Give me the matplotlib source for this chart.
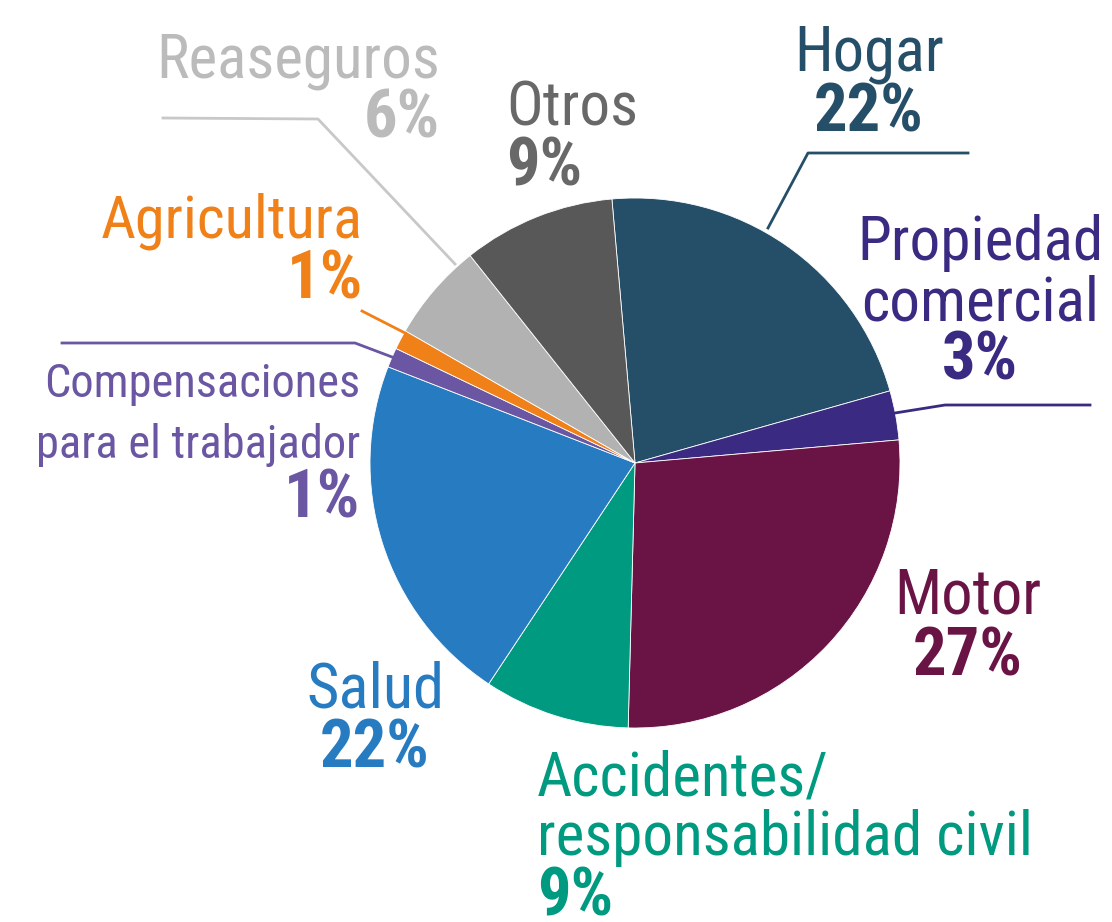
import matplotlib
matplotlib.use("Agg")
import matplotlib.pyplot as plt
import matplotlib.font_manager as fm
from matplotlib.lines import Line2D

# ---------------- data ----------------
categories = ["Hogar", "Propiedad comercial", "Motor", "Accidentes/responsabilidad civil",
              "Salud", "Compensaciones para el trabajador", "Agricultura", "Reaseguros", "Otros"]
shares = [22.0, 3.0, 26.8, 8.9, 21.6, 1.2, 1.2, 6.0, 9.3]
pct_labels = ["22%", "3%", "27%", "9%", "22%", "1%", "1%", "6%", "9%"]
name_lines = [["Hogar"], ["Propiedad", "comercial"], ["Motor"],
              ["Accidentes/", "responsabilidad civil"], ["Salud"],
              ["Compensaciones", "para el trabajador"], ["Agricultura"],
              ["Reaseguros"], ["Otros"]]
slice_colors = ["#254E68", "#3B2A82", "#6A1446", "#009A80", "#277BC0",
                "#6A56A2", "#F08119", "#B2B2B2", "#585858"]
text_colors = ["#254E68", "#3B2A82", "#6A1446", "#009A80", "#277BC0",
               "#6A56A2", "#F08119", "#BBBBBB", "#686868"]
line_colors = ["#254E68", "#3B2A82", None, None, None,
               "#6A56A2", "#F08119", "#C8C8C8", None]

# ---------------- font ----------------
names = {f.name for f in fm.fontManager.ttflist}
STRETCH = "normal"
if "Roboto Condensed" in names:
    FAMILY = "Roboto Condensed"
elif "Liberation Sans Narrow" in names:
    FAMILY = "Liberation Sans Narrow"
elif any(f.name == "DejaVu Sans" and str(f.stretch) in ("condensed", "semi-condensed")
         for f in fm.fontManager.ttflist):
    FAMILY = "DejaVu Sans"
    STRETCH = "condensed"
else:
    FAMILY = "Roboto"

W, H = 1112, 922
fig = plt.figure(figsize=(W / 100, H / 100), dpi=100)
fig.patch.set_facecolor("white")

cx, cy, R = 635, 463, 265
ax = fig.add_axes([(cx - R) / W, (H - cy - R) / H, 2 * R / W, 2 * R / H])
ax.pie(shares, colors=slice_colors, startangle=95, counterclock=False,
       wedgeprops=dict(edgecolor="white", linewidth=0.6))
ax.set_xlim(-1, 1)
ax.set_ylim(-1, 1)
ax.set_aspect("auto")
ax.axis("off")

# ---------------- layout (pixel coordinates) ----------------
# (ha, x, [baselines of name lines..., pct baseline], name fontsize, pct fontsize)
layout = [
    ("center", 869, [70, 132], 45, 48),
    ("center", 980, [260, 320, 380], 44, 48),
    ("center", 968, [613, 675], 45, 48),
    ("left", 537, [795, 855, 915], 44, 48),
    ("center", 375, [707, 768], 45, 48),
    ("right", 360, [397, 458, 517], 33.5, 48),
    ("right", 363, [237, 298], 43.5, 48),
    ("right", 440, [77, 137], 44, 48),
    ("left", 506, [125, 185], 44, 48),
]
leaders = [
    [(968, 153), (808, 153), (768, 228)],
    [(1090, 405), (945, 405), (895, 413)],
    None, None, None,
    [(62, 343), (355, 343), (392, 357)],
    [(362, 311), (405, 333)],
    [(163, 118), (318, 119), (455, 264)],
    None,
]

def fx(x):
    return x / W

def fy(y):
    return 1 - y / H

for i in range(len(categories)):
    ha, x, bases, fs, pfs = layout[i]
    for j, line in enumerate(name_lines[i]):
        fig.text(fx(x), fy(bases[j]), line, ha=ha, va="baseline", fontsize=fs,
                 color=text_colors[i], family=FAMILY, fontstretch=STRETCH)
    fig.text(fx(x), fy(bases[-1]), pct_labels[i], ha=ha, va="baseline", fontsize=pfs,
             color=text_colors[i], family=FAMILY, fontstretch=STRETCH, fontweight="bold")
    if leaders[i] is not None:
        xs = [fx(p[0]) for p in leaders[i]]
        ys = [fy(p[1]) for p in leaders[i]]
        fig.add_artist(Line2D(xs, ys, transform=fig.transFigure,
                              color=line_colors[i], linewidth=2))

fig.savefig("out.png", dpi=100, facecolor="white")
